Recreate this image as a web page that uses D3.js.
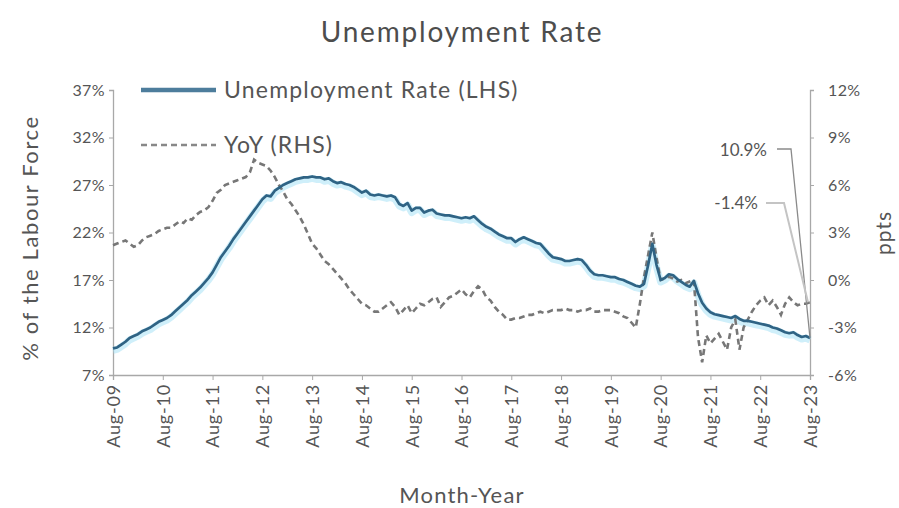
<!DOCTYPE html>
<html><head><meta charset="utf-8">
<script src="https://cdn.jsdelivr.net/npm/d3@7"></script>
<style>body{margin:0;background:#fff}svg{display:block}text{font-family:Lato,"Noto Sans",sans-serif;fill:#555}</style>
</head><body><svg id="c" width="899" height="508"></svg>
<script>
// Monthly unemployment rate (%), Aug-09 .. Aug-23
const unemployment = [
 9.8, 9.9, 10.2, 10.5, 10.9, 11.1, 11.3, 11.6, 11.8, 12.0, 12.3, 12.6,
 12.8, 13.0, 13.3, 13.7, 14.1, 14.5, 14.9, 15.4, 15.8, 16.2, 16.7, 17.2,
 17.8, 18.6, 19.4, 20.0, 20.6, 21.3, 21.9, 22.5, 23.1, 23.7, 24.3, 24.9,
 25.5, 25.9, 25.8, 26.4, 26.7, 27.0, 27.2, 27.4, 27.6, 27.7, 27.8, 27.8,
 27.9, 27.8, 27.8, 27.6, 27.7, 27.4, 27.2, 27.3, 27.1, 27.0, 26.8, 26.5,
 26.2, 26.4, 26.0, 25.9, 26.0, 25.9, 25.8, 25.9, 25.7, 25.0, 24.8, 25.1,
 24.3, 24.6, 24.6, 24.1, 24.3, 24.4, 24.0, 23.9, 23.8, 23.8, 23.7, 23.6,
 23.5, 23.6, 23.5, 23.7, 23.3, 22.9, 22.6, 22.4, 22.1, 21.8, 21.6, 21.4,
 21.4, 21.0, 21.3, 21.5, 21.3, 21.1, 20.9, 20.8, 20.3, 19.8, 19.4, 19.3,
 19.2, 19.0, 19.0, 19.1, 19.2, 19.1, 18.6, 18.0, 17.6, 17.5, 17.5, 17.4,
 17.3, 17.3, 17.1, 17.0, 16.8, 16.6, 16.4, 16.3, 16.6, 18.6, 20.8, 18.6,
 17.0, 17.2, 17.6, 17.5, 17.1, 16.8, 16.5, 16.3, 16.9, 15.6, 14.6, 14.0,
 13.6, 13.4, 13.3, 13.2, 13.1, 13.0, 13.2, 12.9, 12.7, 12.7, 12.6, 12.5,
 12.4, 12.3, 12.2, 12.0, 11.9, 11.7, 11.5, 11.4, 11.5, 11.2, 11.0, 11.1,
 10.9
];
// Year-on-year change (ppts)
const yoy = [
 2.2, 2.3, 2.4, 2.5, 2.3, 2.1, 2.2, 2.5, 2.7, 2.8, 2.9, 3.1,
 3.2, 3.3, 3.3, 3.5, 3.7, 3.6, 3.9, 3.8, 4.1, 4.3, 4.4, 4.6,
 5.0, 5.5, 5.7, 6.0, 6.1, 6.2, 6.3, 6.4, 6.5, 6.8, 7.6, 7.4,
 7.3, 7.2, 6.9, 6.5, 6.0, 5.6, 5.1, 4.8, 4.4, 4.0, 3.5, 2.9,
 2.3, 2.0, 1.6, 1.2, 1.0, 0.7, 0.4, 0.1, -0.2, -0.6, -0.9, -1.2,
 -1.5, -1.6, -1.8, -2.0, -2.0, -1.8, -1.6, -1.4, -1.7, -2.2, -1.9, -1.6,
 -2.1, -1.8, -1.5, -1.6, -1.4, -1.2, -1.1, -1.7, -1.4, -1.1, -1.0, -0.8,
 -0.6, -0.9, -1.1, -0.7, -0.4, -0.6, -1.1, -1.3, -1.7, -2.0, -2.2, -2.5,
 -2.5, -2.4, -2.4, -2.3, -2.2, -2.2, -2.1, -2.0, -2.1, -2.0, -1.9, -1.9,
 -1.9, -1.8, -1.9, -1.9, -2.0, -1.9, -1.9, -1.8, -2.0, -2.0, -1.9, -1.9,
 -1.9, -2.0, -2.1, -2.3, -2.4, -2.7, -3.0, -1.5, 0.2, 1.6, 3.0, 1.4,
 0.0, 0.1, 0.2, 0.1, -0.1, 0.0, -0.2, -0.1, 0.0, -3.6, -5.2, -3.5,
 -4.0, -3.7, -3.4, -3.9, -4.4, -3.0, -2.5, -4.4, -3.0, -2.5, -2.0, -1.6,
 -1.3, -1.1, -1.6, -1.3, -1.7, -2.2, -1.5, -1.1, -1.4, -1.6, -1.5, -1.5,
 -1.4
];
const tickLabels = ["Aug-09","Aug-10","Aug-11","Aug-12","Aug-13","Aug-14","Aug-15","Aug-16","Aug-17","Aug-18","Aug-19","Aug-20","Aug-21","Aug-22","Aug-23"];
const leftTicks = [7, 12, 17, 22, 27, 32, 37];
const rightTicks = [-6, -3, 0, 3, 6, 9, 12];
const seriesNames = ["Unemployment Rate (LHS)", "YoY (RHS)"];
const title = "Unemployment Rate";
const lastLabels = ["10.9%", "-1.4%"];

const svg = d3.select("#c");
const L = 113, R = 810, T = 90, B = 375;
const x = d3.scaleLinear().domain([0, unemployment.length - 1]).range([L, R]);
const yL = d3.scaleLinear().domain([7, 37]).range([B, T]);
const yR = d3.scaleLinear().domain([-6, 12]).range([B, T]);
const axisCol = "#a8a8a8";

// title
svg.append("text").attr("x", 462).attr("y", 42).attr("text-anchor", "middle")
  .style("font-size", "28px").style("letter-spacing", "1.8px").style("fill", "#4d4d4d").text(title);

// axes
const gl = svg.append("g").attr("transform", `translate(${L},0)`)
  .call(d3.axisLeft(yL).tickValues(leftTicks).tickFormat(d => d + "%").tickSize(4).tickPadding(4));
const gr = svg.append("g").attr("transform", `translate(${R},0)`)
  .call(d3.axisRight(yR).tickValues(rightTicks).tickFormat(d => d + "%").tickSize(4).tickPadding(14));
const xIdx = tickLabels.map((d, i) => i * 12);
const gx = svg.append("g").attr("transform", `translate(0,${B})`)
  .call(d3.axisBottom(x).tickValues(xIdx).tickFormat((d, i) => tickLabels[i]).tickSize(5).tickPadding(4));
[gl, gr, gx].forEach(g => {
  g.select(".domain").attr("stroke", axisCol).attr("stroke-width", 1.3);
  g.selectAll(".tick line").attr("stroke", axisCol);
  g.selectAll("text").style("font-size", "16px").style("letter-spacing", "0.4px").style("fill", "#555").style("font-family", "Lato, 'Noto Sans', sans-serif");
});
gx.selectAll("text").attr("transform", "rotate(-90)").attr("text-anchor", "end")
  .attr("y", 0).attr("x", -9).attr("dy", "0.35em").style("font-size", "18px").style("letter-spacing", "0.8px");

// axis titles
svg.append("text").attr("transform", "translate(38,238) rotate(-90)").attr("text-anchor", "middle")
  .style("font-size", "22px").style("letter-spacing", "1.6px").text("% of the Labour Force");
svg.append("text").attr("transform", "translate(891,233) rotate(-90)").attr("text-anchor", "middle")
  .style("font-size", "21px").style("letter-spacing", "1px").text("ppts");
svg.append("text").attr("x", 462).attr("y", 503).attr("text-anchor", "middle")
  .style("font-size", "22px").style("letter-spacing", "1.2px").text("Month-Year");

// lines
const lineU = d3.line().x((d, i) => x(i)).y(d => yL(d));
const lineY = d3.line().x((d, i) => x(i)).y(d => yR(d));
svg.append("path").datum(unemployment).attr("d", lineU).attr("fill", "none")
  .attr("stroke", "#9fe0f6").attr("stroke-width", 7).attr("stroke-opacity", 0.5)
  .attr("transform", "translate(0,2)").attr("stroke-linejoin", "round");
svg.append("path").datum(yoy).attr("d", lineY).attr("fill", "none")
  .attr("stroke", "#777").attr("stroke-width", 2.6).attr("stroke-dasharray", "6,4");
svg.append("path").datum(unemployment).attr("d", lineU).attr("fill", "none")
  .attr("stroke", "#2f6384").attr("stroke-width", 2.7).attr("stroke-linejoin", "round");

// legend
const leg = svg.append("g");
leg.append("line").attr("x1", 141).attr("x2", 216).attr("y1", 90).attr("y2", 90)
  .attr("stroke", "#4d7d9c").attr("stroke-width", 4.5);
leg.append("text").attr("x", 224).attr("y", 98).style("font-size", "23px").style("letter-spacing", "1.2px").text(seriesNames[0]);
leg.append("line").attr("x1", 141).attr("x2", 216).attr("y1", 145).attr("y2", 145)
  .attr("stroke", "#888").attr("stroke-width", 2.6).attr("stroke-dasharray", "6,4");
leg.append("text").attr("x", 224).attr("y", 153).style("font-size", "23px").style("letter-spacing", "1.2px").text(seriesNames[1]);

// end annotations
const n = unemployment.length - 1;
svg.append("text").attr("x", 767).attr("y", 156).attr("text-anchor", "end").style("font-size", "17px").text(lastLabels[0]);
svg.append("path").attr("d", `M777,149 L791,149 L${x(n)},${yL(unemployment[n])}`)
  .attr("fill", "none").attr("stroke", "#8a8a8a").attr("stroke-width", 1.3);
svg.append("text").attr("x", 758).attr("y", 209).attr("text-anchor", "end").style("font-size", "17px").text(lastLabels[1]);
svg.append("path").attr("d", `M766,203 L784,203 L${x(n) - 2},${yR(yoy[n])}`)
  .attr("fill", "none").attr("stroke", "#c4c4c4").attr("stroke-width", 2);
</script></body></html>
